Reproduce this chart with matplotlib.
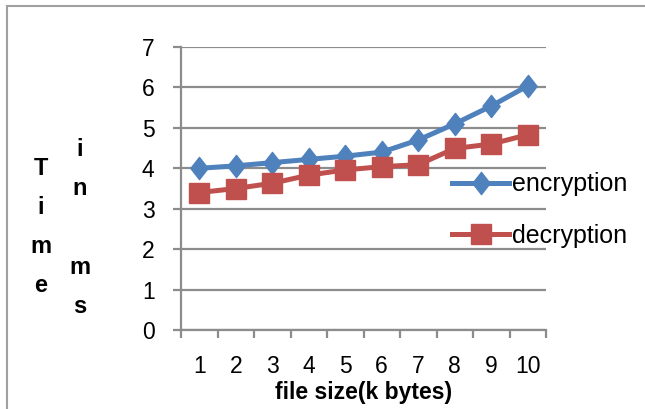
import matplotlib.pyplot as plt
from matplotlib.patches import Rectangle
import numpy as np

file_size = [1, 2, 3, 4, 5, 6, 7, 8, 9, 10]
encryption = [4.0, 4.06, 4.14, 4.22, 4.3, 4.4, 4.7, 5.1, 5.54, 6.04]
decryption = [3.4, 3.5, 3.63, 3.83, 3.96, 4.04, 4.09, 4.49, 4.6, 4.83]

plt.rcParams['font.family'] = ['Liberation Sans', 'DejaVu Sans']

blue = '#4F81BD'
red = '#C0504D'
grey = '#8C8C8C'

# slightly tall diamond like the excel marker
diamond = [(-0.39, 0), (0, 0.5), (0.39, 0), (0, -0.5), (-0.39, 0)]

fig = plt.figure(figsize=(6.45, 4.09), dpi=100)
ax = fig.add_axes([181/645, 1 - 330/409, 365/645, 283/409])

ax.plot(file_size, encryption, color=blue, lw=3.6, marker=diamond, ms=16,
        label='encryption', zorder=3)
ax.plot(file_size, decryption, color=red, lw=3.6, marker='s', ms=14.5,
        label='decryption', zorder=3)

ax.set_xlim(0.5, 10.5)
ax.set_ylim(0, 7)
ax.set_yticks(range(0, 8))
ax.yaxis.grid(True, color=grey, lw=1.6)
ax.set_axisbelow(True)

# boundary tick marks, labels in the middle of each category
ax.set_xticks(np.arange(0.5, 11, 1))
ax.set_xticklabels([])
ax.set_xticks(file_size, minor=True)
ax.set_xticklabels([str(v) for v in file_size], minor=True)
ax.tick_params(axis='x', which='major', length=6, width=1.6, color=grey, direction='out')
ax.tick_params(axis='x', which='minor', length=0, pad=18, labelsize=16.5)
ax.tick_params(axis='y', length=6, width=1.6, color=grey, pad=13, labelsize=16.5)

for s in ['top', 'right']:
    ax.spines[s].set_visible(False)
for s in ['left', 'bottom']:
    ax.spines[s].set_color(grey)
    ax.spines[s].set_linewidth(1.6)

ax.set_xlabel('file size(k bytes)', fontsize=16.5, fontweight='bold', labelpad=2)

leg = ax.legend(loc='upper left', bbox_to_anchor=(0.716, 0.592), frameon=False,
                fontsize=18, handlelength=2.27, handletextpad=0.12,
                labelspacing=1.1, borderaxespad=0)

fig.text(41/645, 1 - 227/409, 'T\ni\nm\ne', fontsize=17, fontweight='bold',
         ha='center', va='center', linespacing=1.9)
fig.text(80/645, 1 - 228/409, 'i\nn\n\nm\ns', fontsize=17, fontweight='bold',
         ha='center', va='center', linespacing=1.9)

fig.patches.append(Rectangle((7/645, -0.1), 1.2, 1 - 6/409 + 0.1, transform=fig.transFigure,
                             fill=False, edgecolor='#A0A0A0', lw=1.5))

fig.savefig('out.png', dpi=100)
